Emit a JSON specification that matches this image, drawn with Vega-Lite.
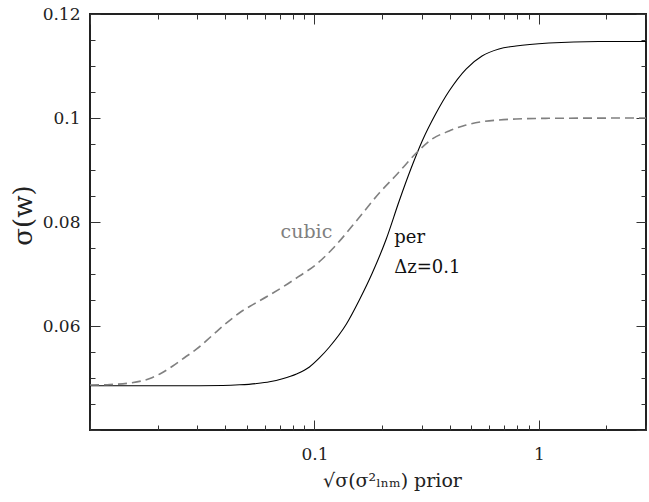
{
  "$schema": "https://vega.github.io/schema/vega-lite/v6.json",
  "autosize": {"type": "none"},
  "width": 556,
  "height": 416,
  "padding": {"left": 90, "top": 14, "right": 3, "bottom": 72},
  "background": "white",
  "config": {
    "view": {"stroke": "#222", "strokeWidth": 2},
    "axis": {
      "grid": false,
      "domain": false,
      "labelFont": "DejaVu Serif",
      "titleFont": "DejaVu Serif",
      "labelFontSize": 17,
      "labelColor": "#222",
      "tickColor": "#333",
      "tickWidth": 1,
      "titleFontWeight": "normal",
      "titleColor": "#222"
    }
  },
  "datasets": {
    "per": [
      {"x": 0.01, "y": 0.04852},
      {"x": 0.03084, "y": 0.04852},
      {"x": 0.03899, "y": 0.04856},
      {"x": 0.04642, "y": 0.04869},
      {"x": 0.05524, "y": 0.04894},
      {"x": 0.0631, "y": 0.04927},
      {"x": 0.07208, "y": 0.04985},
      {"x": 0.08318, "y": 0.05077},
      {"x": 0.09501, "y": 0.05212},
      {"x": 0.1052, "y": 0.05385},
      {"x": 0.1166, "y": 0.05596},
      {"x": 0.1388, "y": 0.06038},
      {"x": 0.1585, "y": 0.065},
      {"x": 0.181, "y": 0.07019},
      {"x": 0.2089, "y": 0.07673},
      {"x": 0.2385, "y": 0.08404},
      {"x": 0.2698, "y": 0.09038},
      {"x": 0.302, "y": 0.09558},
      {"x": 0.3485, "y": 0.10096},
      {"x": 0.3981, "y": 0.10519},
      {"x": 0.4737, "y": 0.10942},
      {"x": 0.5579, "y": 0.11192},
      {"x": 0.6639, "y": 0.11327},
      {"x": 0.7902, "y": 0.11385},
      {"x": 1.1076, "y": 0.11442},
      {"x": 1.848, "y": 0.11471},
      {"x": 3, "y": 0.11471}
    ],
    "cubic": [
      {"x": 0.01, "y": 0.04865},
      {"x": 0.01227, "y": 0.04875},
      {"x": 0.01506, "y": 0.04904},
      {"x": 0.01848, "y": 0.0499},
      {"x": 0.02047, "y": 0.05077},
      {"x": 0.02338, "y": 0.05231},
      {"x": 0.02643, "y": 0.05394},
      {"x": 0.02989, "y": 0.05558},
      {"x": 0.03522, "y": 0.05827},
      {"x": 0.03981, "y": 0.06029},
      {"x": 0.04321, "y": 0.06154},
      {"x": 0.0469, "y": 0.06269},
      {"x": 0.05142, "y": 0.06375},
      {"x": 0.0631, "y": 0.06596},
      {"x": 0.07586, "y": 0.06808},
      {"x": 0.08577, "y": 0.06962},
      {"x": 0.101, "y": 0.07173},
      {"x": 0.1202, "y": 0.07481},
      {"x": 0.1537, "y": 0.08019},
      {"x": 0.1945, "y": 0.08558},
      {"x": 0.2338, "y": 0.08923},
      {"x": 0.287, "y": 0.09346},
      {"x": 0.3345, "y": 0.09596},
      {"x": 0.3981, "y": 0.0975},
      {"x": 0.4737, "y": 0.09865},
      {"x": 0.5579, "y": 0.09929},
      {"x": 0.6639, "y": 0.09962},
      {"x": 0.7902, "y": 0.09981},
      {"x": 1.1076, "y": 0.09994},
      {"x": 3, "y": 0.1}
    ],
    "labels1": [
      {"x": 0.0921, "y": 0.0769, "text": "cubic"}
    ],
    "labels2": [
      {"x": 0.2268, "y": 0.076, "text": "per"},
      {"x": 0.2268, "y": 0.0702, "text": "Δz=0.1"}
    ]
  },
  "layer": [
    {
      "data": {"name": "per"},
      "mark": {"type": "line", "color": "black", "strokeWidth": 1.1, "interpolate": "monotone", "clip": true},
      "encoding": {
        "x": {
          "field": "x", "type": "quantitative",
          "scale": {"type": "log", "domain": [0.01, 3], "nice": false},
          "axis": {
            "orient": "bottom",
            "values": [0.01, 0.1, 1],
            "labelExpr": "datum.value < 0.05 ? '' : (datum.value == 1 ? '1' : '0.1')",
            "tickSize": -10,
            "labelPadding": 26,
            "title": "√σ(σ²ₗₙₘ) prior",
            "titleFontSize": 19,
            "titlePadding": 9,
            "titleX": 302
          }
        },
        "y": {
          "field": "y", "type": "quantitative",
          "scale": {"domain": [0.04, 0.12], "nice": false, "zero": false},
          "axis": {
            "orient": "left",
            "values": [0.04, 0.06, 0.08, 0.1, 0.12],
            "labelExpr": "datum.value < 0.05 ? '' : format(datum.value, '.2~f')",
            "tickSize": -10,
            "labelPadding": 20,
            "title": "σ(w)",
            "titleFontSize": 26,
            "titlePadding": 6,
            "titleY": 201
          }
        }
      }
    },
    {
      "data": {"name": "cubic"},
      "mark": {"type": "line", "color": "#808080", "strokeWidth": 1.6, "strokeDash": [9, 5], "interpolate": "monotone", "clip": true},
      "encoding": {
        "x": {
          "field": "x", "type": "quantitative",
          "scale": {"type": "log", "domain": [0.01, 3], "nice": false},
          "axis": {
            "orient": "bottom",
            "values": [0.02, 0.03, 0.04, 0.05, 0.06, 0.07, 0.08, 0.09, 0.2, 0.3, 0.4, 0.5, 0.6, 0.7, 0.8, 0.9, 2, 3],
            "labels": false,
            "tickSize": -5,
            "title": null
          }
        },
        "y": {
          "field": "y", "type": "quantitative",
          "scale": {"domain": [0.04, 0.12], "nice": false, "zero": false},
          "axis": {
            "orient": "left",
            "values": [0.045, 0.05, 0.055, 0.065, 0.07, 0.075, 0.085, 0.09, 0.095, 0.105, 0.11, 0.115],
            "labels": false,
            "tickSize": -5,
            "title": null
          }
        }
      }
    },
    {
      "data": {"name": "labels1"},
      "mark": {"type": "text", "font": "DejaVu Serif", "fontSize": 19, "color": "#808080", "align": "center", "baseline": "alphabetic"},
      "encoding": {
        "text": {"field": "text"},
        "x": {
          "field": "x", "type": "quantitative",
          "scale": {"type": "log", "domain": [0.01, 3], "nice": false},
          "axis": {"orient": "top", "values": [0.01, 0.1, 1], "labels": false, "tickSize": -10, "title": null}
        },
        "y": {
          "field": "y", "type": "quantitative",
          "scale": {"domain": [0.04, 0.12], "nice": false, "zero": false},
          "axis": {"orient": "right", "values": [0.04, 0.06, 0.08, 0.1, 0.12], "labels": false, "tickSize": -10, "title": null}
        }
      }
    },
    {
      "data": {"name": "labels2"},
      "mark": {"type": "text", "font": "DejaVu Serif", "fontSize": 18, "color": "#111", "align": "left", "baseline": "alphabetic"},
      "encoding": {
        "text": {"field": "text"},
        "x": {
          "field": "x", "type": "quantitative",
          "scale": {"type": "log", "domain": [0.01, 3], "nice": false},
          "axis": {
            "orient": "top",
            "values": [0.02, 0.03, 0.04, 0.05, 0.06, 0.07, 0.08, 0.09, 0.2, 0.3, 0.4, 0.5, 0.6, 0.7, 0.8, 0.9, 2, 3],
            "labels": false, "tickSize": -5, "title": null
          }
        },
        "y": {
          "field": "y", "type": "quantitative",
          "scale": {"domain": [0.04, 0.12], "nice": false, "zero": false},
          "axis": {
            "orient": "right",
            "values": [0.045, 0.05, 0.055, 0.065, 0.07, 0.075, 0.085, 0.09, 0.095, 0.105, 0.11, 0.115],
            "labels": false, "tickSize": -5, "title": null
          }
        }
      }
    }
  ],
  "resolve": {"axis": {"x": "independent", "y": "independent"}}
}
